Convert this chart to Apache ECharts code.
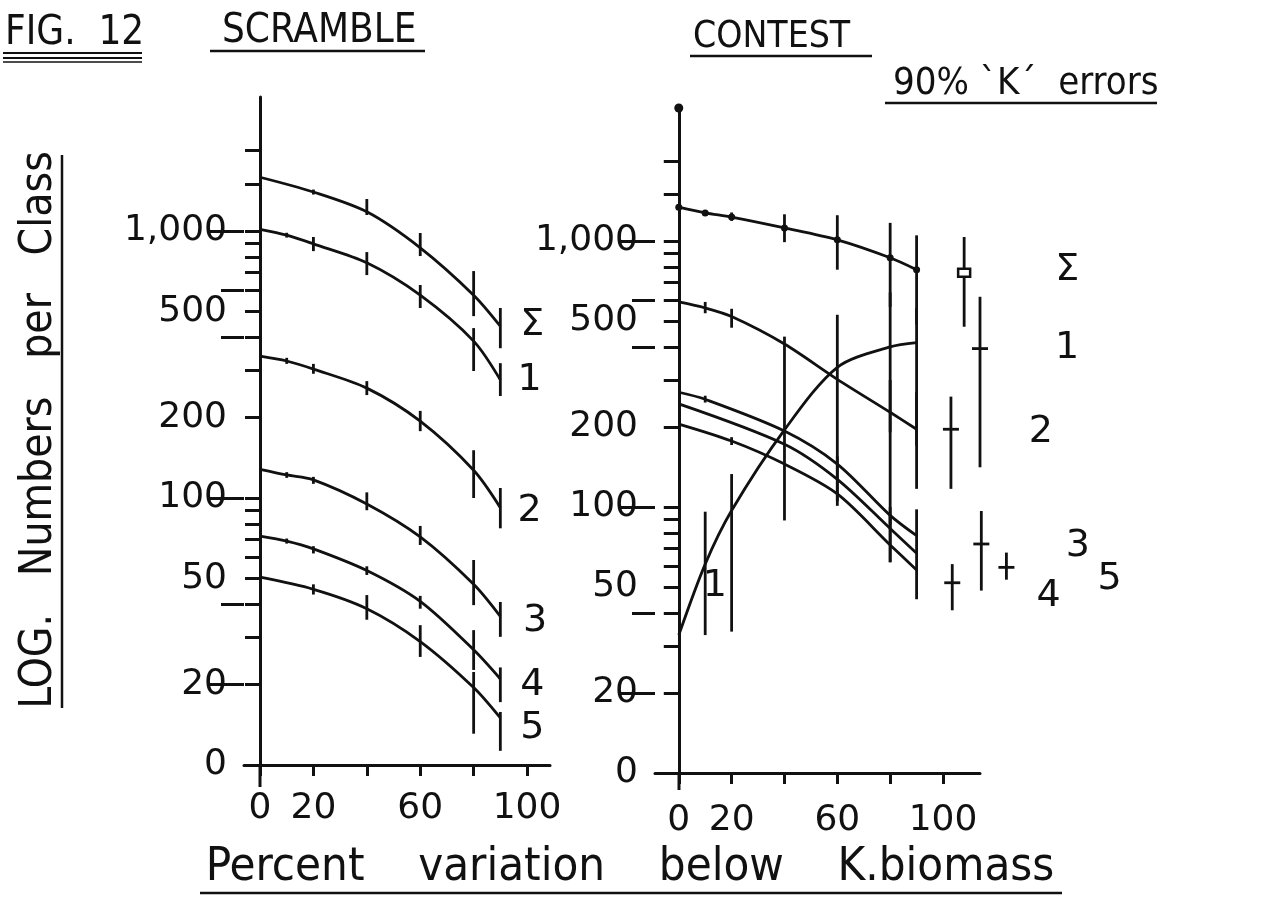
<!DOCTYPE html>
<html>
<head>
<meta charset="utf-8">
<script src="https://cdn.jsdelivr.net/npm/echarts@6/dist/echarts.min.js"></script>
<style>
  html, body { margin: 0; padding: 0; background: #ffffff; }
  #chart { width: 1264px; height: 917px; }
</style>
</head>
<body>
<div id="chart"></div>
<script>
// ---------------- shared axis ticks ----------------
const yLabelValues = [10, 20, 50, 100, 200, 500, 1000];
const yLabelText   = ['0', '20', '50', '100', '200', '500', '1,000'];
const yShortTicks  = [10, 20, 30, 40, 50, 60, 70, 80, 90, 100, 200, 300, 400, 500, 600, 700, 800, 900, 1000, 1500, 2000];
const yLongTicks   = [20, 100, 1000];
const yMidTicks    = [40, 400, 600];
const xTickValues  = [0, 20, 40, 60, 80, 100];
const xLabelValues = [0, 20, 60, 100];

// ---------------- SCRAMBLE panel ----------------
const scrSigmaX = [0, 20, 40, 60, 80, 90];
const scrSigma  = [1590, 1400, 1180, 865, 575, 440];
const scrSigmaErr = [null, [1430, 1370], [1318, 1148], [983, 806], [708, 480], [515, 364]];

const scrC1X = [0, 10, 20, 40, 60, 80, 90];
const scrC1  = [1015, 965, 895, 760, 575, 387, 277];
const scrC1Err = [null, [985, 945], [950, 841], [834, 684], [628, 515], [433, 299], [320, 241]];

const scrC2X = [0, 10, 20, 40, 60, 80, 90];
const scrC2  = [340, 326, 304, 258, 194, 127, 92];
const scrC2Err = [null, [335, 318], [318, 292], [274, 243], [212, 178], [151, 100], [109, 77]];

const scrC3X = [0, 10, 20, 40, 60, 80, 90];
const scrC3  = [128, 122, 117, 95, 71.5, 47.5, 36];
const scrC3Err = [null, [125, 119], [120, 113], [105, 90], [78.6, 66.7], [58.6, 39.7], [40.8, 30.2]];

const scrC4X = [0, 10, 20, 40, 60, 80, 90];
const scrC4  = [72, 69, 64.5, 53.5, 41, 27, 21];
const scrC4Err = [null, [70.5, 67.5], [66, 62], [55.5, 51.5], [43, 38.5], [32, 22.7], [23.2, 17.2]];

const scrC5X = [0, 20, 40, 60, 80, 90];
const scrC5  = [50.5, 45.5, 38.5, 29, 19.5, 15];
const scrC5Err = [null, [47.5, 43.5], [43.3, 35], [33.4, 25.4], [22.3, 13.1], [15.8, 11.3]];

const scrLabelNames = ['Σ', '1', '2', '3', '4', '5'];
const scrLabelX     = [102, 101, 101, 103, 102, 102];
const scrLabelY     = [444, 277, 89.5, 34.6, 20, 13.8];

// ---------------- CONTEST panel ----------------
const conSigmaX = [0, 10, 20, 40, 60, 80, 90];
const conSigma  = [1340, 1275, 1230, 1120, 1010, 865, 780];
const conSigmaErr = [null, [1300, 1250], [1280, 1190], [1260, 990], [1250, 780], [1170, 565], [1050, 485]];

const conC1X = [0, 10, 20, 40, 60, 80, 90];
const conC1  = [33, 61, 97, 195, 335, 400, 415];
const conC1Err = [null, [96, 33], [133, 34], [437, 89], [528, 105], [640, 62], [560, 117]];

const conC2X = [0, 10, 20, 40, 60, 80, 90];
const conC2  = [590, 560, 520, 410, 302, 227, 196];
const conC2Err = [null, [590, 535], [556, 472], null, null, [300, 191], [270, 170]];

const conC3X = [0, 10, 40, 60, 80, 90];
const conC3  = [270, 254, 193, 145, 93, 78];
const conC3Err = [null, [262, 247], null, null, [100, 86], [98, 66]];

const conC4X = [0, 40, 60, 80, 90];
const conC4  = [244, 172, 127, 83, 67];
const conC4Err = [null, null, [155, 101], [93, 62], null];

const conC5X = [0, 20, 40, 60, 80, 90];
const conC5  = [205, 177, 145, 112, 72, 58];
const conC5Err = [null, [183, 171], null, null, null, [66, 45]];

// 90% 'K' error bars drawn beside the contest curves
const kNames  = ['Σ', '1', '2', '3', '4', '5'];
const kX      = [108, 114, 103, 114.5, 103.5, 124];
const kMid    = [759, 394, 196, 72.6, 51.9, 59.3];
const kLow    = [476, 141, 117, 48.5, 40.9, 53.3];
const kHigh   = [1035, 617, 260, 96.6, 61, 67.4];

const conLabelNames = ['Σ', '1', '2', '3', '4', '5', '1'];
const conLabelX     = [147, 147, 137, 151, 140, 163, 13.6];
const conLabelY     = [779, 394, 191, 71.4, 46.4, 53.7, 50.4];

// ---------------- styling ----------------
const INK = '#111111';
const NUM_FONT = "'DejaVu Sans', sans-serif";
const TITLE_FONT = "'DejaVu Sans Condensed', 'Liberation Sans Narrow', 'DejaVu Sans', sans-serif";

function pairs(xs, ys) { return xs.map((x, i) => [x, ys[i]]); }

function errorData(xs, errs) {
  const out = [];
  xs.forEach((x, i) => { if (errs[i]) out.push([x, errs[i][0], errs[i][1]]); });
  return out;
}

function yLabelFormatter(v) {
  const i = yLabelValues.indexOf(Math.round(v));
  return i >= 0 ? yLabelText[i] : '';
}

function yAxesFor(gridIndex, max, topDot) {
  const base = {
    type: 'log', logBase: 10, gridIndex: gridIndex, min: 10, max: max, position: 'left',
    splitLine: { show: false }, minorTick: { show: false }, minorSplitLine: { show: false }
  };
  const tickStyle = { color: INK, width: 3 };
  return [
    Object.assign({}, base, {
      axisLine: {
        show: true, onZero: true, lineStyle: { color: INK, width: 3 },
        symbol: topDot ? ['none', 'circle'] : 'none', symbolSize: [9, 9]
      },
      axisTick: { show: true, customValues: yShortTicks, length: 15, lineStyle: tickStyle },
      axisLabel: {
        show: true, customValues: yLabelValues, margin: 17, formatter: yLabelFormatter,
        fontFamily: NUM_FONT, fontSize: 36, color: INK
      }
    }),
    Object.assign({}, base, {
      axisLine: { show: false, onZero: true },
      axisTick: { show: true, customValues: yLongTicks, length: 34, lineStyle: tickStyle },
      axisLabel: { show: false }
    }),
    Object.assign({}, base, {
      axisLine: { show: false, onZero: true },
      axisTick: { show: true, customValues: yMidTicks, length: 23, lineStyle: tickStyle },
      axisLabel: { show: false }
    })
  ];
}

function xAxisFor(gridIndex, min, max, labelMargin) {
  return {
    type: 'value', gridIndex: gridIndex, min: min, max: max, position: 'bottom',
    splitLine: { show: false },
    axisLine: { show: true, onZero: false, lineStyle: { color: INK, width: 3 } },
    axisTick: { show: true, customValues: xTickValues, length: 11, lineStyle: { color: INK, width: 3 } },
    axisLabel: { show: true, customValues: xLabelValues, margin: labelMargin, fontFamily: NUM_FONT, fontSize: 36, color: INK }
  };
}

function curve(name, xs, ys, xIdx, yIdx, withDots) {
  return {
    name: name, type: 'line', xAxisIndex: xIdx, yAxisIndex: yIdx,
    data: pairs(xs, ys), smooth: 0.3,
    symbol: withDots ? 'circle' : 'none', symbolSize: 7,
    itemStyle: { color: INK }, lineStyle: { color: INK, width: 2.8 },
    silent: true, animation: false, z: 3
  };
}

function errorBars(name, data, xIdx, yIdx) {
  return {
    name: name, type: 'custom', xAxisIndex: xIdx, yAxisIndex: yIdx,
    data: data, clip: false, silent: true, animation: false, z: 4,
    renderItem: function (params, api) {
      const x = api.value(0);
      const a = api.coord([x, api.value(1)]);
      const b = api.coord([x, api.value(2)]);
      return {
        type: 'line',
        shape: { x1: a[0], y1: a[1], x2: b[0], y2: b[1] },
        style: { stroke: INK, lineWidth: 2.8 }
      };
    }
  };
}

function textLabels(name, names, xs, ys, xIdx, yIdx) {
  return {
    name: name, type: 'scatter', xAxisIndex: xIdx, yAxisIndex: yIdx,
    data: names.map((n, i) => ({ name: n, value: [xs[i], ys[i]] })),
    symbolSize: 0, clip: false, silent: true, animation: false,
    itemStyle: { opacity: 1, color: INK },
    label: {
      show: true, position: 'inside', formatter: '{b}',
      fontFamily: NUM_FONT, fontSize: 38, color: INK, opacity: 1
    }
  };
}

const kData = kX.map((x, i) => [x, kLow[i], kHigh[i], kMid[i]]);

const chart = echarts.init(document.getElementById('chart'), null, { renderer: 'canvas' });

chart.setOption({
  backgroundColor: '#ffffff',
  animation: false,
  grid: [
    { left: 244, top: 97, width: 306, height: 668 },
    { left: 655, top: 108, width: 325, height: 665 }
  ],
  xAxis: [
    xAxisFor(0, -6, 108.6, 26),
    xAxisFor(1, -9, 114, 30)
  ],
  yAxis: [].concat(yAxesFor(0, 3177, false), yAxesFor(1, 3162, true)),
  series: [
    // SCRAMBLE
    curve('scramble Σ', scrSigmaX, scrSigma, 0, 0, false),
    curve('scramble 1', scrC1X, scrC1, 0, 0, false),
    curve('scramble 2', scrC2X, scrC2, 0, 0, false),
    curve('scramble 3', scrC3X, scrC3, 0, 0, false),
    curve('scramble 4', scrC4X, scrC4, 0, 0, false),
    curve('scramble 5', scrC5X, scrC5, 0, 0, false),
    errorBars('scramble errors', [].concat(
      errorData(scrSigmaX, scrSigmaErr), errorData(scrC1X, scrC1Err), errorData(scrC2X, scrC2Err),
      errorData(scrC3X, scrC3Err), errorData(scrC4X, scrC4Err), errorData(scrC5X, scrC5Err)), 0, 0),
    textLabels('scramble labels', scrLabelNames, scrLabelX, scrLabelY, 0, 0),

    // CONTEST
    curve('contest Σ', conSigmaX, conSigma, 1, 3, true),
    curve('contest 1', conC1X, conC1, 1, 3, false),
    curve('contest 2', conC2X, conC2, 1, 3, false),
    curve('contest 3', conC3X, conC3, 1, 3, false),
    curve('contest 4', conC4X, conC4, 1, 3, false),
    curve('contest 5', conC5X, conC5, 1, 3, false),
    errorBars('contest errors', [].concat(
      errorData(conSigmaX, conSigmaErr), errorData(conC1X, conC1Err), errorData(conC2X, conC2Err),
      errorData(conC3X, conC3Err), errorData(conC4X, conC4Err), errorData(conC5X, conC5Err)), 1, 3),
    {
      name: 'K errors', type: 'custom', xAxisIndex: 1, yAxisIndex: 3,
      data: kData, clip: false, silent: true, animation: false, z: 4,
      renderItem: function (params, api) {
        const x = api.value(0);
        const lo = api.coord([x, api.value(1)]);
        const hi = api.coord([x, api.value(2)]);
        const mid = api.coord([x, api.value(3)]);
        const children = [
          { type: 'line', shape: { x1: lo[0], y1: lo[1], x2: hi[0], y2: hi[1] }, style: { stroke: INK, lineWidth: 2.8 } }
        ];
        if (kNames[params.dataIndex] === 'Σ') {
          children.push({ type: 'rect', shape: { x: mid[0] - 6, y: mid[1] - 4, width: 12, height: 8 },
            style: { fill: '#ffffff', stroke: INK, lineWidth: 2.5 } });
        } else {
          children.push({ type: 'line', shape: { x1: mid[0] - 8, y1: mid[1], x2: mid[0] + 8, y2: mid[1] },
            style: { stroke: INK, lineWidth: 2.8 } });
        }
        return { type: 'group', children: children };
      }
    },
    textLabels('contest labels', conLabelNames, conLabelX, conLabelY, 1, 3)
  ],
  graphic: [
    // vertical axis lines run on a little below the baseline
    { type: 'line', shape: { x1: 260, y1: 765, x2: 260, y2: 787 }, style: { stroke: INK, lineWidth: 3 } },
    { type: 'line', shape: { x1: 679, y1: 773, x2: 679, y2: 790 }, style: { stroke: INK, lineWidth: 3 } },

    // figure heading
    { type: 'text', x: 5, y: 34, style: { text: 'FIG.  12', font: '40px ' + TITLE_FONT, fill: INK, textVerticalAlign: 'middle' } },
    { type: 'line', shape: { x1: 3, y1: 53, x2: 142, y2: 53 }, style: { stroke: INK, lineWidth: 2.2 } },
    { type: 'line', shape: { x1: 3, y1: 58, x2: 142, y2: 58 }, style: { stroke: INK, lineWidth: 2.2 } },
    { type: 'line', shape: { x1: 3, y1: 62, x2: 142, y2: 62 }, style: { stroke: INK, lineWidth: 1.6 } },

    { type: 'text', x: 222, y: 32, style: { text: 'SCRAMBLE', font: '40px ' + TITLE_FONT, fill: INK, textVerticalAlign: 'middle' } },
    { type: 'line', shape: { x1: 210, y1: 51, x2: 425, y2: 51 }, style: { stroke: INK, lineWidth: 2.5 } },

    { type: 'text', x: 693, y: 37, style: { text: 'CONTEST', font: '37px ' + TITLE_FONT, fill: INK, textVerticalAlign: 'middle' } },
    { type: 'line', shape: { x1: 690, y1: 56, x2: 872, y2: 56 }, style: { stroke: INK, lineWidth: 2.5 } },

    { type: 'text', x: 893, y: 84, style: { text: '90% `K´  errors', font: '38px ' + TITLE_FONT, fill: INK, textVerticalAlign: 'middle' } },
    { type: 'line', shape: { x1: 885, y1: 103, x2: 1157, y2: 103 }, style: { stroke: INK, lineWidth: 2.5 } },

    // vertical axis title
    { type: 'text', x: 40, y: 430, rotation: Math.PI / 2,
      style: { text: 'LOG.   Numbers   per   Class', font: '44px ' + TITLE_FONT, fill: INK, textAlign: 'center', textVerticalAlign: 'middle' } },
    { type: 'line', shape: { x1: 62, y1: 155, x2: 62, y2: 708 }, style: { stroke: INK, lineWidth: 2.5 } },

    // horizontal axis title
    { type: 'text', x: 630, y: 868,
      style: { text: 'Percent    variation    below    K.biomass', font: '47px ' + TITLE_FONT, fill: INK, textAlign: 'center', textVerticalAlign: 'middle' } },
    { type: 'line', shape: { x1: 200, y1: 893, x2: 1062, y2: 893 }, style: { stroke: INK, lineWidth: 2.5 } }
  ]
});
</script>
</body>
</html>
